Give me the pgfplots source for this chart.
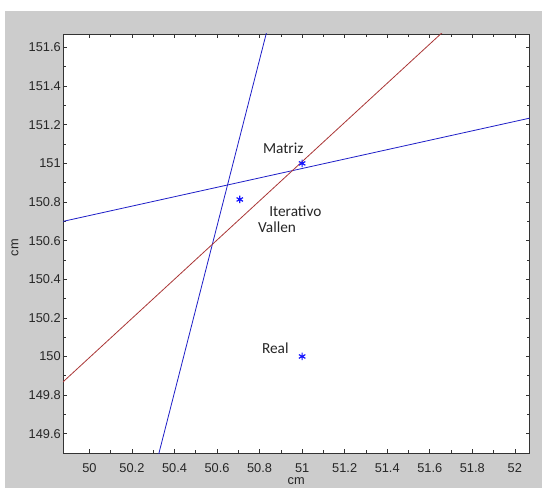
\documentclass[border=0pt]{standalone}
\usepackage{fontspec}
\setmainfont{Liberation Sans}
\newfontfamily\calfont{Carlito}
\usepackage{pgfplots}
\pgfplotsset{compat=1.18}
\definecolor{figgray}{RGB}{204,204,204}
\definecolor{lblue}{RGB}{30,30,200}
\definecolor{lred}{RGB}{170,55,55}
\definecolor{mblue}{RGB}{20,20,255}
\begin{document}
\begin{tikzpicture}
\useasboundingbox (0pt,0pt) rectangle (406.5pt,-366pt);
\fill[white] (0pt,0pt) rectangle (406.5pt,-366pt);
\fill[figgray] (3.75pt,-8.25pt) rectangle (406.5pt,-366pt);
\begin{axis}[
  at={(47.25pt,-25.5pt)}, anchor=north west,
  scale only axis,
  width=349.9pt, height=314.25pt,
  xmin=49.876, xmax=52.069,
  ymin=149.5, ymax=151.67,
  axis background/.style={fill=white},
  xtick={50,50.2,...,52.01},
  ytick={149.6,149.8,...,151.61},
  minor tick num=1,
  tick align=inside,
  major tick length=3pt,
  minor tick length=2.2pt,
  tick style={black!80, line width=0.5pt},
  axis line style={black!80, line width=0.6pt},
  /pgf/number format/assume math mode=true,
  /pgf/number format/fixed,
  /pgf/number format/precision=1,
  tick label style={font=\fontsize{9.6}{10}\selectfont, text=black!85},
  xticklabel shift=4.2pt,
  yticklabel style={inner xsep=1.5pt},
  xlabel={cm}, ylabel={cm},
  label style={font=\fontsize{9.6}{10}\selectfont, text=black!85},
  xlabel style={at={(axis description cs:0.5,0)}, anchor=center, yshift=-21pt},
  ylabel style={at={(axis description cs:-0.103,0.49)}, anchor=center, rotate=0},
  clip=true,
]
\addplot[lblue, line width=0.6pt] coordinates {(50.304,149.4) (50.861,151.8)};
\addplot[lblue, line width=0.6pt] coordinates {(49.8,150.681) (52.2,151.266)};
\addplot[lred, line width=0.6pt] coordinates {(49.8,149.791) (51.8,151.821)};
\addplot[only marks, mark=asterisk, mark size=2.8pt, mblue, line width=0.9pt] coordinates {(51.0,151.0) (50.707,150.813) (51.0,150.0)};
\node[font=\calfont\fontsize{11.5}{12}\selectfont, text=black!85] at (axis cs:50.911,151.079) {Matriz};
\node[font=\calfont\fontsize{11.5}{12}\selectfont, text=black!85] at (axis cs:50.968,150.752) {Iterativo};
\node[font=\calfont\fontsize{11.5}{12}\selectfont, text=black!85] at (axis cs:50.882,150.670) {Vallen};
\node[font=\calfont\fontsize{11.5}{12}\selectfont, text=black!85] at (axis cs:50.874,150.045) {Real};
\end{axis}
\end{tikzpicture}
\end{document}
